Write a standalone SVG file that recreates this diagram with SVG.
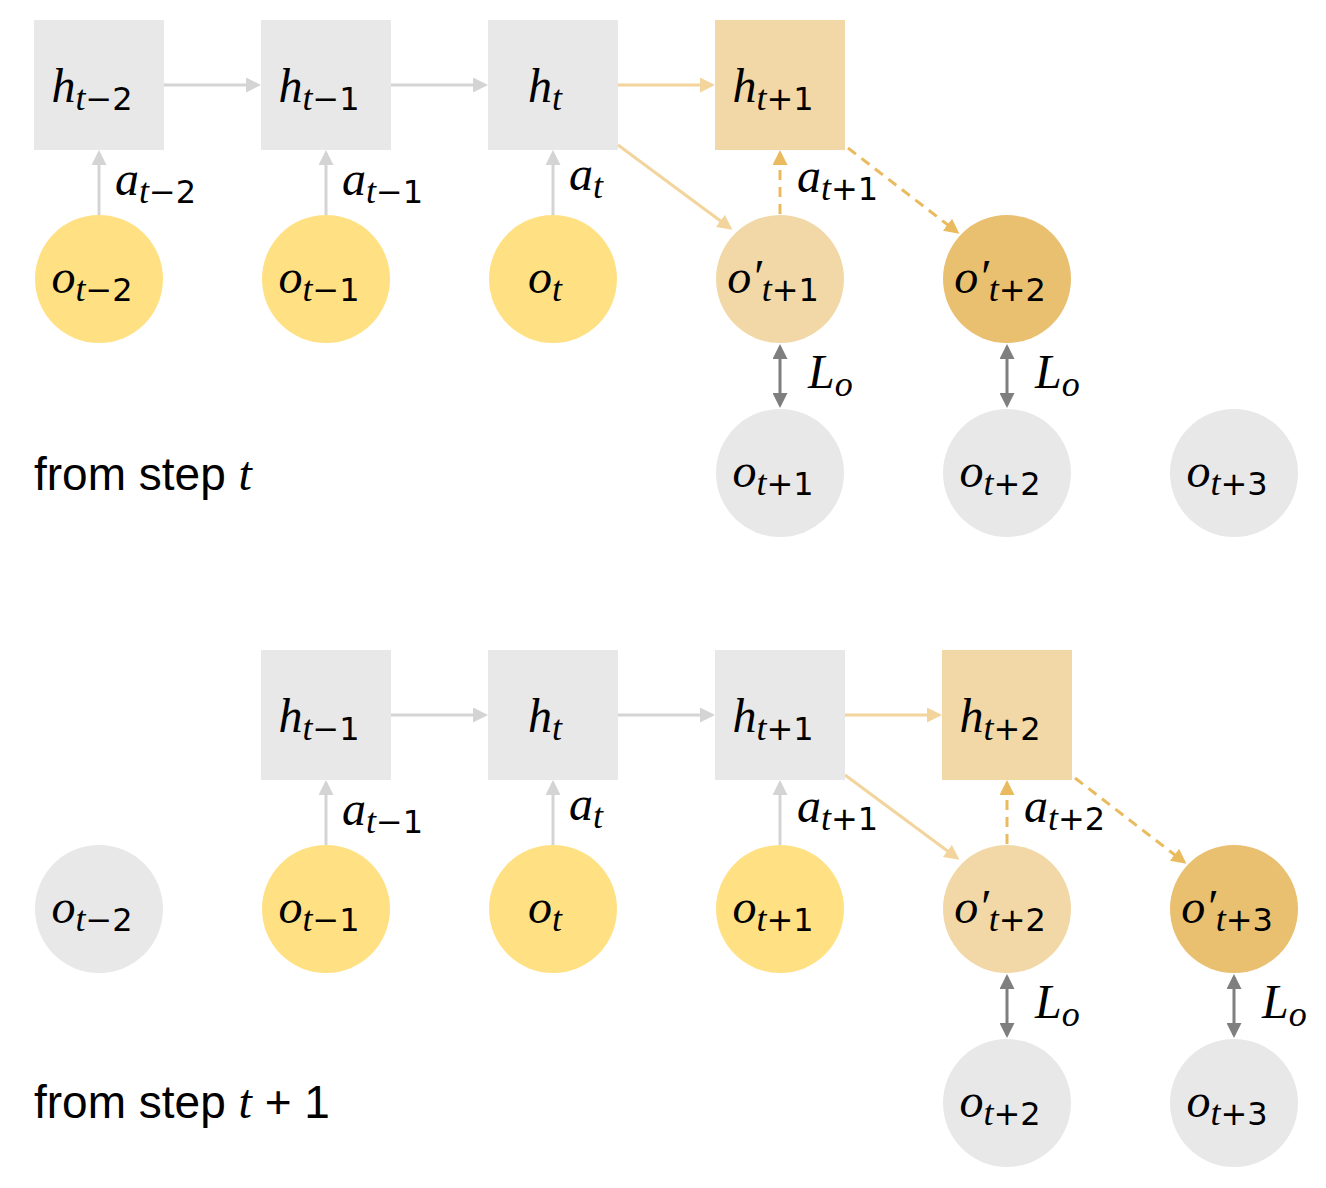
<svg xmlns="http://www.w3.org/2000/svg" width="1326" height="1188" viewBox="0 0 1326 1188">
<defs>
<style>
.g{fill:#e8e8e8}.y{fill:#ffe184}.l{fill:#f2d8a6}.d{fill:#e9bf70}
.m{font-family:"Liberation Serif","DejaVu Serif",serif;font-style:italic;font-size:48px;fill:#000;text-anchor:middle}
.s{font-size:36px}.u{font-style:normal;font-family:"DejaVu Sans","Liberation Sans",sans-serif;font-size:32px}
.t{font-family:"Liberation Sans",Arial,sans-serif;font-size:46px}
.ag{stroke:#d4d4d4;stroke-width:3;fill:none;marker-end:url(#mg)}
.ao{stroke:#f2d49c;stroke-width:3;fill:none;marker-end:url(#mo)}
.ad{stroke:#e9bb5e;stroke-width:3;fill:none;stroke-dasharray:10 7;marker-end:url(#md)}
.ab{stroke:#7f7f7f;stroke-width:3;fill:none;marker-end:url(#mb);marker-start:url(#mb)}
</style>
<marker id="mg" markerWidth="5" markerHeight="5" refX="4" refY="2.5" orient="auto-start-reverse"><path d="M0,0L5,2.5L0,5z" fill="#d4d4d4"/></marker>
<marker id="mo" markerWidth="5" markerHeight="5" refX="4" refY="2.5" orient="auto-start-reverse"><path d="M0,0L5,2.5L0,5z" fill="#f2d49c"/></marker>
<marker id="md" markerWidth="5" markerHeight="5" refX="4" refY="2.5" orient="auto-start-reverse"><path d="M0,0L5,2.5L0,5z" fill="#e9bb5e"/></marker>
<marker id="mb" markerWidth="5" markerHeight="5" refX="4" refY="2.5" orient="auto-start-reverse"><path d="M0,0L5,2.5L0,5z" fill="#7f7f7f"/></marker>
</defs>
<rect width="1326" height="1188" fill="#fff"/>

<g id="connectors">
<line class="ag" x1="164" y1="85" x2="258" y2="85"/>
<line class="ag" x1="391" y1="85" x2="485" y2="85"/>
<line class="ao" x1="618" y1="85" x2="712" y2="85"/>
<line class="ag" x1="99" y1="215" x2="99" y2="153"/>
<line class="ag" x1="326" y1="215" x2="326" y2="153"/>
<line class="ag" x1="553" y1="215" x2="553" y2="153"/>
<line class="ao" x1="618" y1="145" x2="730" y2="228"/>
<line class="ad" x1="780" y1="214" x2="780" y2="153"/>
<line class="ad" x1="848" y1="148" x2="957" y2="232"/>
<line class="ab" x1="780" y1="347" x2="780" y2="405"/>
<line class="ab" x1="1007" y1="347" x2="1007" y2="405"/>

<line class="ag" x1="391" y1="715" x2="485" y2="715"/>
<line class="ag" x1="618" y1="715" x2="712" y2="715"/>
<line class="ao" x1="845" y1="715" x2="939" y2="715"/>
<line class="ag" x1="326" y1="845" x2="326" y2="783"/>
<line class="ag" x1="553" y1="845" x2="553" y2="783"/>
<line class="ag" x1="780" y1="845" x2="780" y2="783"/>
<line class="ao" x1="845" y1="775" x2="957" y2="858"/>
<line class="ad" x1="1007" y1="844" x2="1007" y2="783"/>
<line class="ad" x1="1075" y1="778" x2="1184" y2="862"/>
<line class="ab" x1="1007" y1="977" x2="1007" y2="1035"/>
<line class="ab" x1="1234" y1="977" x2="1234" y2="1035"/>
</g>

<g id="top-h1"><rect class="g" x="34" y="20" width="130" height="130"/><text class="m" x="92" y="102">h<tspan class="s" dy="8">t</tspan><tspan class="u">−2</tspan></text></g>
<g id="top-h2"><rect class="g" x="261" y="20" width="130" height="130"/><text class="m" x="319" y="102">h<tspan class="s" dy="8">t</tspan><tspan class="u">−1</tspan></text></g>
<g id="top-h3"><rect class="g" x="488" y="20" width="130" height="130"/><text class="m" x="545" y="102">h<tspan class="s" dy="8">t</tspan></text></g>
<g id="top-h4"><rect class="l" x="715" y="20" width="130" height="130"/><text class="m" x="773" y="102">h<tspan class="s" dy="8">t</tspan><tspan class="u">+1</tspan></text></g>

<g id="top-a" class="m" style="text-anchor:start">
<text x="115" y="195">a<tspan class="s" dy="8">t</tspan><tspan class="u">−2</tspan></text>
<text x="342" y="195">a<tspan class="s" dy="8">t</tspan><tspan class="u">−1</tspan></text>
<text x="569" y="190">a<tspan class="s" dy="8">t</tspan></text>
<text x="797" y="192">a<tspan class="s" dy="8">t</tspan><tspan class="u">+1</tspan></text>
<text x="808" y="388">L<tspan class="s" dy="8">o</tspan></text>
<text x="1035" y="388">L<tspan class="s" dy="8">o</tspan></text>
</g>

<g id="top-o1"><circle class="y" cx="99" cy="279" r="64"/><text class="m" x="92" y="293">o<tspan class="s" dy="8">t</tspan><tspan class="u">−2</tspan></text></g>
<g id="top-o2"><circle class="y" cx="326" cy="279" r="64"/><text class="m" x="319" y="293">o<tspan class="s" dy="8">t</tspan><tspan class="u">−1</tspan></text></g>
<g id="top-o3"><circle class="y" cx="553" cy="279" r="64"/><text class="m" x="545" y="293">o<tspan class="s" dy="8">t</tspan></text></g>
<g id="top-o4"><circle class="l" cx="780" cy="279" r="64"/><text class="m" x="773" y="293">o′<tspan class="s" dy="8">t</tspan><tspan class="u">+1</tspan></text></g>
<g id="top-o5"><circle class="d" cx="1007" cy="279" r="64"/><text class="m" x="1000" y="293">o′<tspan class="s" dy="8">t</tspan><tspan class="u">+2</tspan></text></g>
<g id="top-g1"><circle class="g" cx="780" cy="473" r="64"/><text class="m" x="773" y="487">o<tspan class="s" dy="8">t</tspan><tspan class="u">+1</tspan></text></g>
<g id="top-g2"><circle class="g" cx="1007" cy="473" r="64"/><text class="m" x="1000" y="487">o<tspan class="s" dy="8">t</tspan><tspan class="u">+2</tspan></text></g>
<g id="top-g3"><circle class="g" cx="1234" cy="473" r="64"/><text class="m" x="1227" y="487">o<tspan class="s" dy="8">t</tspan><tspan class="u">+3</tspan></text></g>
<text class="t" x="34" y="490">from step <tspan font-family="Liberation Serif,serif" font-style="italic" font-size="48">t</tspan></text>

<g id="bot-h1"><rect class="g" x="261" y="650" width="130" height="130"/><text class="m" x="319" y="732">h<tspan class="s" dy="8">t</tspan><tspan class="u">−1</tspan></text></g>
<g id="bot-h2"><rect class="g" x="488" y="650" width="130" height="130"/><text class="m" x="545" y="732">h<tspan class="s" dy="8">t</tspan></text></g>
<g id="bot-h3"><rect class="g" x="715" y="650" width="130" height="130"/><text class="m" x="773" y="732">h<tspan class="s" dy="8">t</tspan><tspan class="u">+1</tspan></text></g>
<g id="bot-h4"><rect class="l" x="942" y="650" width="130" height="130"/><text class="m" x="1000" y="732">h<tspan class="s" dy="8">t</tspan><tspan class="u">+2</tspan></text></g>

<g id="bot-a" class="m" style="text-anchor:start">
<text x="342" y="825">a<tspan class="s" dy="8">t</tspan><tspan class="u">−1</tspan></text>
<text x="569" y="820">a<tspan class="s" dy="8">t</tspan></text>
<text x="797" y="822">a<tspan class="s" dy="8">t</tspan><tspan class="u">+1</tspan></text>
<text x="1024" y="822">a<tspan class="s" dy="8">t</tspan><tspan class="u">+2</tspan></text>
<text x="1035" y="1018">L<tspan class="s" dy="8">o</tspan></text>
<text x="1262" y="1018">L<tspan class="s" dy="8">o</tspan></text>
</g>

<g id="bot-o0"><circle class="g" cx="99" cy="909" r="64"/><text class="m" x="92" y="923">o<tspan class="s" dy="8">t</tspan><tspan class="u">−2</tspan></text></g>
<g id="bot-o1"><circle class="y" cx="326" cy="909" r="64"/><text class="m" x="319" y="923">o<tspan class="s" dy="8">t</tspan><tspan class="u">−1</tspan></text></g>
<g id="bot-o2"><circle class="y" cx="553" cy="909" r="64"/><text class="m" x="545" y="923">o<tspan class="s" dy="8">t</tspan></text></g>
<g id="bot-o3"><circle class="y" cx="780" cy="909" r="64"/><text class="m" x="773" y="923">o<tspan class="s" dy="8">t</tspan><tspan class="u">+1</tspan></text></g>
<g id="bot-o4"><circle class="l" cx="1007" cy="909" r="64"/><text class="m" x="1000" y="923">o′<tspan class="s" dy="8">t</tspan><tspan class="u">+2</tspan></text></g>
<g id="bot-o5"><circle class="d" cx="1234" cy="909" r="64"/><text class="m" x="1227" y="923">o′<tspan class="s" dy="8">t</tspan><tspan class="u">+3</tspan></text></g>
<g id="bot-g1"><circle class="g" cx="1007" cy="1103" r="64"/><text class="m" x="1000" y="1117">o<tspan class="s" dy="8">t</tspan><tspan class="u">+2</tspan></text></g>
<g id="bot-g2"><circle class="g" cx="1234" cy="1103" r="64"/><text class="m" x="1227" y="1117">o<tspan class="s" dy="8">t</tspan><tspan class="u">+3</tspan></text></g>
<text class="t" x="34" y="1118">from step <tspan font-family="Liberation Serif,serif" font-style="italic" font-size="48">t</tspan> + 1</text>
</svg>
